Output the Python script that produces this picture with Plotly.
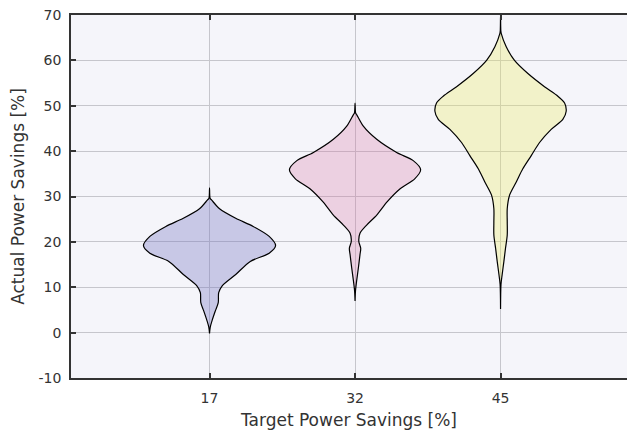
import plotly.graph_objects as go

# target savings groups (x positions 1..3 on the axis)
categories = ["17", "32", "45"]
positions = [1, 2, 3]

y_ticks = [-10, 0, 10, 20, 30, 40, 50, 60, 70]
y_ticktext = ["-10", "0", "10", "20", "30", "40", "50", "60", "70"]

# violin outlines: value [%] and half-width (x units)
v17_vals = [31.9, 29.6, 29.2, 27.3, 25.2, 23.4, 21.2, 19.2, 17.5, 15.7, 12.8,
            10.3, 8.8, 6.6, 4.8, 2.6, 1.2, -0.2]
v17_hw = [0.0, 0.004, 0.015, 0.069, 0.18, 0.30, 0.41, 0.454, 0.41, 0.28, 0.18,
          0.087, 0.063, 0.06, 0.04, 0.017, 0.005, 0.0]

v32_vals = [50.6, 48.4, 48.0, 45.5, 42.6, 39.7, 37.9, 35.9, 33.9, 31.7, 28.8,
            25.9, 23.7, 21.9, 20.1, 18.6, 17.2, 14.3, 11.4, 9.2, 7.0]
v32_hw = [0.0, 0.004, 0.012, 0.057, 0.149, 0.286, 0.40, 0.451, 0.41, 0.31, 0.22,
          0.149, 0.08, 0.034, 0.026, 0.039, 0.034, 0.023, 0.011, 0.003, 0.0]

v45_vals = [70.0, 66.5, 65.9, 63.0, 60.0, 57.1, 54.2, 52.1, 50.6, 48.8, 47.0,
            44.8, 41.9, 39.0, 36.1, 33.2, 30.3, 27.3, 24.4, 21.5, 18.6, 15.7,
            12.8, 10.6, 5.2]
v45_hw = [0.0, 0.002, 0.005, 0.039, 0.096, 0.188, 0.302, 0.394, 0.44, 0.451, 0.428,
          0.348, 0.268, 0.211, 0.153, 0.108, 0.062, 0.046, 0.046, 0.046, 0.034, 0.023,
          0.011, 0.003, 0.0]

fills = ["rgba(110,110,190,0.33)", "rgba(215,110,160,0.27)", "rgba(235,235,100,0.32)"]

fig = go.Figure()

for pos, vals, hw, col in zip(positions, [v17_vals, v32_vals, v45_vals],
                              [v17_hw, v32_hw, v45_hw], fills):
    # right side top->bottom, then left side bottom->top
    xs = [pos + w for w in hw] + [pos - w for w in reversed(hw)]
    ys = list(vals) + list(reversed(vals))
    fig.add_trace(go.Scatter(
        x=xs, y=ys,
        mode="lines",
        fill="toself",
        fillcolor=col,
        line=dict(color="black", width=1.2, shape="spline", smoothing=0.8),
        hoverinfo="skip",
        showlegend=False,
    ))

font_family = "'DejaVu Sans', sans-serif"

fig.update_layout(
    # page body keeps an 8px margin, so the figure is sized to fit without scrollbars
    width=619,
    height=423,
    paper_bgcolor="white",
    plot_bgcolor="#f5f5fa",
    margin=dict(l=63, r=0, t=7, b=53),
    font=dict(family=font_family, size=14, color="#333333"),
    xaxis=dict(
        range=[0.048, 3.869],
        tickvals=positions,
        ticktext=categories,
        ticks="inside",
        ticklen=5,
        tickwidth=1.5,
        tickcolor="#333333",
        showline=True,
        linecolor="#333333",
        linewidth=1.8,
        mirror="ticks",
        showgrid=True,
        gridcolor="#c6c6cc",
        gridwidth=1,
        zeroline=False,
        automargin=False,
        ticklabelstandoff=6,
        title=dict(text="Target Power Savings [%]", font=dict(size=17), standoff=9),
    ),
    yaxis=dict(
        range=[-10, 70],
        tickvals=y_ticks,
        ticktext=y_ticktext,
        ticks="inside",
        ticklen=5,
        tickwidth=1.5,
        tickcolor="#333333",
        showline=True,
        linecolor="#333333",
        linewidth=1.8,
        mirror=False,
        showgrid=True,
        gridcolor="#c6c6cc",
        gridwidth=1,
        zeroline=False,
        automargin=False,
        ticklabelstandoff=5,
        ticklabeloverflow="allow",
        title=dict(text="Actual Power Savings [%]", font=dict(size=17), standoff=16),
    ),
)

fig.write_html("out.html")
